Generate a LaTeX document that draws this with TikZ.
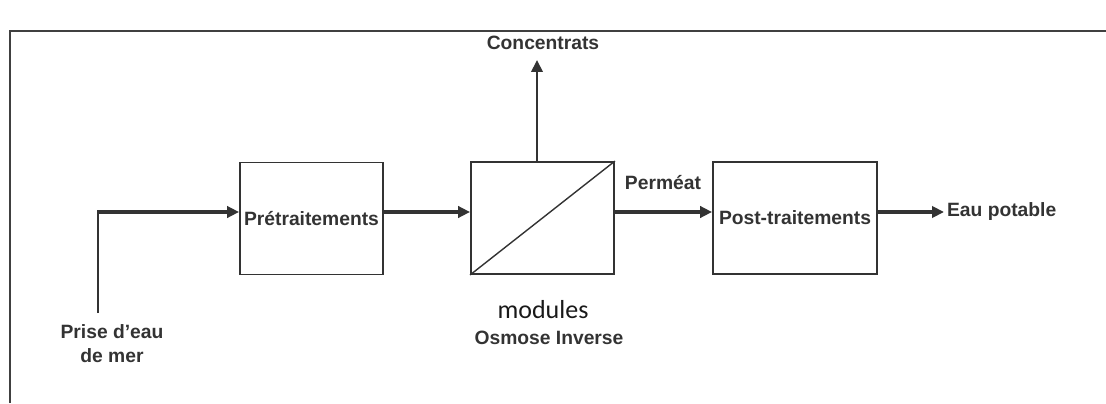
\documentclass[tikz,border=0pt]{standalone}
\usepackage{fontspec}
\setmainfont{Liberation Sans}
\newfontfamily\calibri{Carlito}
\usetikzlibrary{arrows.meta}

\begin{document}
\begin{tikzpicture}[x=0.025cm, y=0.025cm,
  every node/.style={font=\fontsize{13.7}{17}\selectfont\bfseries, text=black!80},
  box/.style={draw=black!80, line width=1.3pt, minimum height=2.8cm, inner sep=0pt},
  flow/.style={draw=black!80, line width=2.8pt, -{Triangle[length=8.5pt,width=8pt]}},
]

\useasboundingbox (0,0) rectangle (1106,403);
\draw[black!75, line width=1.4pt] (10,0) -- (10,372) -- (1106,372);

\node[box, minimum width=3.575cm] (pre) at (311.5,184.5) {Prétraitements};
\node[box, minimum width=3.575cm] (oi) at (542.5,185) {};
\node[box, minimum width=4.1cm] (post) at (795,185) {Post-traitements};
\draw[black!80, line width=1pt] (oi.south west) -- (oi.north east);

\coordinate (intake) at (98,90);
\coordinate (corner) at (98,191);
\coordinate (top) at (537,343);

\node[align=center] (prise) at (112,59) {Prise d'eau\\de mer};
\node (conc) at (543,360) {Concentrats};
\node (perm) at (663,220) {Perméat};
\node[anchor=west, inner xsep=2pt] (eau) at (944,191) {Eau potable};
\node[font=\calibri\fontsize{18.5}{20}\selectfont, text=black!90] (modules) at (543,93) {modules};
\node (osmose) at (549,65) {Osmose Inverse};

\draw[black!80, line width=1.4pt] (intake) -- (corner);
\draw[flow] ([xshift=-0.7pt]corner) -- (pre.west |- corner);
\draw[flow] (pre.east |- corner) -- (oi.west |- corner);
\draw[flow] (oi.east |- corner) -- (post.west |- corner);
\draw[flow] (post.east |- corner) -- (eau.west);
\draw[flow, line width=2pt] (oi.north -| top) -- (top);

\end{tikzpicture}
\end{document}
